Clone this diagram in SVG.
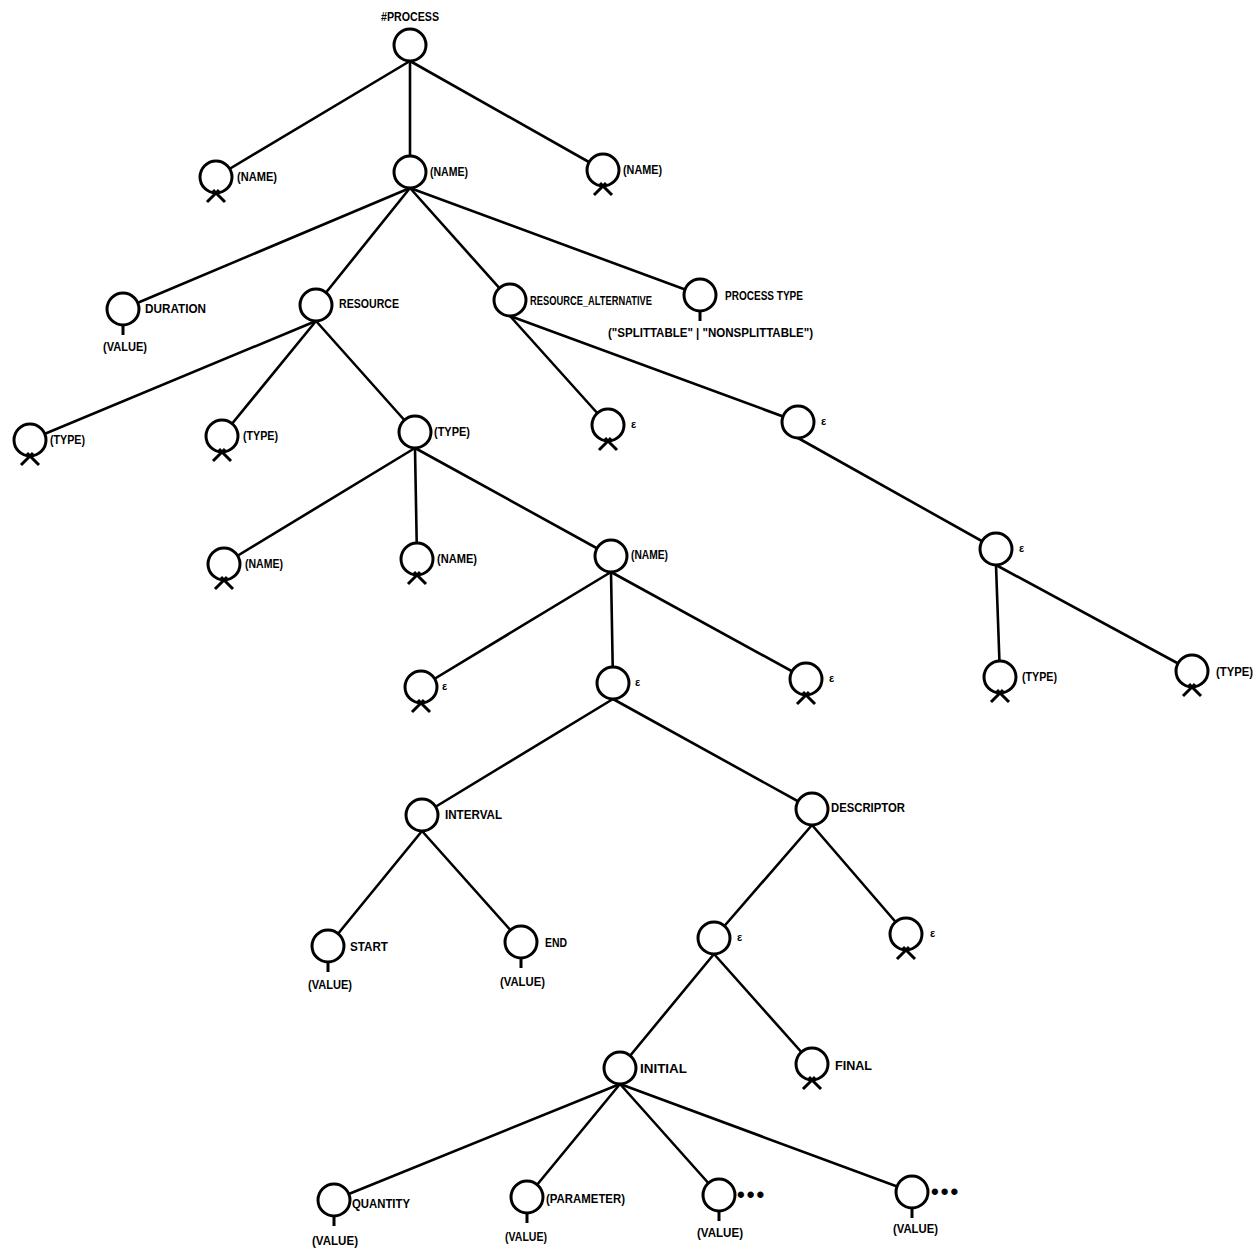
<svg xmlns="http://www.w3.org/2000/svg" xmlns:xlink="http://www.w3.org/1999/xlink" width="1258" height="1252" viewBox="0 0 1258 1252">
<style>
.c line{stroke:#000;stroke-width:2.6;stroke-linecap:round}
.n circle{fill:#fff;stroke:#000;stroke-width:3}
.n use{stroke:#000;stroke-width:3;fill:none}
text{font-family:"Liberation Sans",Arial,sans-serif;font-weight:bold;font-size:12px;fill:#000}
.e{font-size:11px}
.d{font-size:22px;letter-spacing:2px}
</style>
<defs>
<path id="xm" d="M-3 13 L9 25 M3 13 L-9 25"/>
<path id="st" d="M0 16 V26"/>
</defs>
<rect width="1258" height="1252" fill="#fff"/>
<g id="connectors" class="c">
<line x1="410" y1="61" x2="216" y2="177"/>
<line x1="410" y1="61" x2="410" y2="172"/>
<line x1="410" y1="61" x2="603" y2="170"/>
<line x1="410" y1="188" x2="123" y2="309"/>
<line x1="410" y1="188" x2="316" y2="305"/>
<line x1="410" y1="188" x2="510" y2="300"/>
<line x1="410" y1="188" x2="700" y2="295"/>
<line x1="316" y1="321" x2="30" y2="440"/>
<line x1="316" y1="321" x2="222" y2="436"/>
<line x1="316" y1="321" x2="415" y2="432"/>
<line x1="510" y1="316" x2="608" y2="425"/>
<line x1="510" y1="316" x2="798" y2="422"/>
<line x1="798" y1="438" x2="996" y2="549"/>
<line x1="996" y1="565" x2="1000" y2="677"/>
<line x1="996" y1="565" x2="1192" y2="671"/>
<line x1="415" y1="448" x2="224" y2="564"/>
<line x1="415" y1="448" x2="417" y2="559"/>
<line x1="415" y1="448" x2="611" y2="556"/>
<line x1="611" y1="572" x2="421" y2="687"/>
<line x1="611" y1="572" x2="613" y2="683"/>
<line x1="611" y1="572" x2="806" y2="679"/>
<line x1="613" y1="699" x2="422" y2="815"/>
<line x1="613" y1="699" x2="812" y2="809"/>
<line x1="422" y1="831" x2="328" y2="946"/>
<line x1="422" y1="831" x2="521" y2="942"/>
<line x1="812" y1="825" x2="714" y2="938"/>
<line x1="812" y1="825" x2="906" y2="934"/>
<line x1="714" y1="954" x2="620" y2="1068"/>
<line x1="714" y1="954" x2="812" y2="1064"/>
<line x1="620" y1="1084" x2="334" y2="1200"/>
<line x1="620" y1="1084" x2="527" y2="1197"/>
<line x1="620" y1="1084" x2="719" y2="1195"/>
<line x1="620" y1="1084" x2="912" y2="1192"/>
</g>
<g id="process" class="n"><circle cx="410" cy="45" r="16"/><text x="381" y="21" textLength="58" lengthAdjust="spacingAndGlyphs">#PROCESS</text></g>
<g id="name1" class="n"><circle cx="216" cy="177" r="16"/><use href="#xm" x="216" y="177"/><text x="237" y="181" textLength="40" lengthAdjust="spacingAndGlyphs">(NAME)</text></g>
<g id="name2" class="n"><circle cx="410" cy="172" r="16"/><text x="430" y="176" textLength="38" lengthAdjust="spacingAndGlyphs">(NAME)</text></g>
<g id="name3" class="n"><circle cx="603" cy="170" r="16"/><use href="#xm" x="603" y="170"/><text x="623" y="174" textLength="39" lengthAdjust="spacingAndGlyphs">(NAME)</text></g>
<g id="duration" class="n"><circle cx="123" cy="309" r="16"/><use href="#st" x="123" y="309"/><text x="145" y="313" textLength="61" lengthAdjust="spacingAndGlyphs">DURATION</text><text x="103" y="351" textLength="44" lengthAdjust="spacingAndGlyphs">(VALUE)</text></g>
<g id="resource" class="n"><circle cx="316" cy="305" r="16"/><text x="339" y="308" textLength="60" lengthAdjust="spacingAndGlyphs">RESOURCE</text></g>
<g id="resource_alt" class="n"><circle cx="510" cy="300" r="16"/><text x="530" y="305" textLength="122" lengthAdjust="spacingAndGlyphs">RESOURCE_ALTERNATIVE</text></g>
<g id="process_type" class="n"><circle cx="700" cy="295" r="16"/><use href="#st" x="700" y="295"/><text x="725" y="300" textLength="78" lengthAdjust="spacingAndGlyphs">PROCESS TYPE</text><text x="608" y="337" textLength="205" lengthAdjust="spacingAndGlyphs">("SPLITTABLE" | "NONSPLITTABLE")</text></g>
<g id="type1" class="n"><circle cx="30" cy="440" r="16"/><use href="#xm" x="30" y="440"/><text x="50" y="444" textLength="35" lengthAdjust="spacingAndGlyphs">(TYPE)</text></g>
<g id="type2" class="n"><circle cx="222" cy="436" r="16"/><use href="#xm" x="222" y="436"/><text x="243" y="440" textLength="35" lengthAdjust="spacingAndGlyphs">(TYPE)</text></g>
<g id="type3" class="n"><circle cx="415" cy="432" r="16"/><text x="434" y="436" textLength="36" lengthAdjust="spacingAndGlyphs">(TYPE)</text></g>
<g id="eps1" class="n"><circle cx="608" cy="425" r="16"/><use href="#xm" x="608" y="425"/><text class="e" x="631" y="428">ε</text></g>
<g id="eps2" class="n"><circle cx="798" cy="422" r="16"/><text class="e" x="821" y="425">ε</text></g>
<g id="eps3" class="n"><circle cx="996" cy="549" r="16"/><text class="e" x="1019" y="552">ε</text></g>
<g id="typeA" class="n"><circle cx="1000" cy="677" r="16"/><use href="#xm" x="1000" y="677"/><text x="1022" y="681" textLength="35" lengthAdjust="spacingAndGlyphs">(TYPE)</text></g>
<g id="typeB" class="n"><circle cx="1192" cy="671" r="16"/><use href="#xm" x="1192" y="671"/><text x="1216" y="676" textLength="37" lengthAdjust="spacingAndGlyphs">(TYPE)</text></g>
<g id="nameA" class="n"><circle cx="224" cy="564" r="16"/><use href="#xm" x="224" y="564"/><text x="245" y="568" textLength="38" lengthAdjust="spacingAndGlyphs">(NAME)</text></g>
<g id="nameB" class="n"><circle cx="417" cy="559" r="16"/><use href="#xm" x="417" y="559"/><text x="437" y="563" textLength="40" lengthAdjust="spacingAndGlyphs">(NAME)</text></g>
<g id="nameC" class="n"><circle cx="611" cy="556" r="16"/><text x="631" y="559" textLength="37" lengthAdjust="spacingAndGlyphs">(NAME)</text></g>
<g id="epsA" class="n"><circle cx="421" cy="687" r="16"/><use href="#xm" x="421" y="687"/><text class="e" x="442" y="690">ε</text></g>
<g id="epsB" class="n"><circle cx="613" cy="683" r="16"/><text class="e" x="635" y="686">ε</text></g>
<g id="epsC" class="n"><circle cx="806" cy="679" r="16"/><use href="#xm" x="806" y="679"/><text class="e" x="829" y="682">ε</text></g>
<g id="interval" class="n"><circle cx="422" cy="815" r="16"/><text x="445" y="819" textLength="57" lengthAdjust="spacingAndGlyphs">INTERVAL</text></g>
<g id="descriptor" class="n"><circle cx="812" cy="809" r="16"/><text x="831" y="812" textLength="74" lengthAdjust="spacingAndGlyphs">DESCRIPTOR</text></g>
<g id="start" class="n"><circle cx="328" cy="946" r="16"/><use href="#st" x="328" y="946"/><text x="350" y="951" textLength="38" lengthAdjust="spacingAndGlyphs">START</text><text x="308" y="989" textLength="44" lengthAdjust="spacingAndGlyphs">(VALUE)</text></g>
<g id="end" class="n"><circle cx="521" cy="942" r="16"/><use href="#st" x="521" y="942"/><text x="545" y="947" textLength="22" lengthAdjust="spacingAndGlyphs">END</text><text x="500" y="986" textLength="45" lengthAdjust="spacingAndGlyphs">(VALUE)</text></g>
<g id="epsD" class="n"><circle cx="714" cy="938" r="16"/><text class="e" x="737" y="941">ε</text></g>
<g id="epsE" class="n"><circle cx="906" cy="934" r="16"/><use href="#xm" x="906" y="934"/><text class="e" x="930" y="937">ε</text></g>
<g id="initial" class="n"><circle cx="620" cy="1068" r="16"/><text x="640" y="1073" textLength="47" lengthAdjust="spacingAndGlyphs">INITIAL</text></g>
<g id="final" class="n"><circle cx="812" cy="1064" r="16"/><use href="#xm" x="812" y="1064"/><text x="835" y="1070" textLength="37" lengthAdjust="spacingAndGlyphs">FINAL</text></g>
<g id="quantity" class="n"><circle cx="334" cy="1200" r="16"/><use href="#st" x="334" y="1200"/><text x="352" y="1208" textLength="58" lengthAdjust="spacingAndGlyphs">QUANTITY</text><text x="312" y="1245" textLength="46" lengthAdjust="spacingAndGlyphs">(VALUE)</text></g>
<g id="parameter" class="n"><circle cx="527" cy="1197" r="16"/><use href="#st" x="527" y="1197"/><text x="546" y="1203" textLength="79" lengthAdjust="spacingAndGlyphs">(PARAMETER)</text><text x="505" y="1241" textLength="42" lengthAdjust="spacingAndGlyphs">(VALUE)</text></g>
<g id="more1" class="n"><circle cx="719" cy="1195" r="16"/><use href="#st" x="719" y="1195"/><text class="d" x="737" y="1202">•••</text><text x="697" y="1237" textLength="46" lengthAdjust="spacingAndGlyphs">(VALUE)</text></g>
<g id="more2" class="n"><circle cx="912" cy="1192" r="16"/><use href="#st" x="912" y="1192"/><text class="d" x="931" y="1199">•••</text><text x="893" y="1233" textLength="45" lengthAdjust="spacingAndGlyphs">(VALUE)</text></g>
</svg>
